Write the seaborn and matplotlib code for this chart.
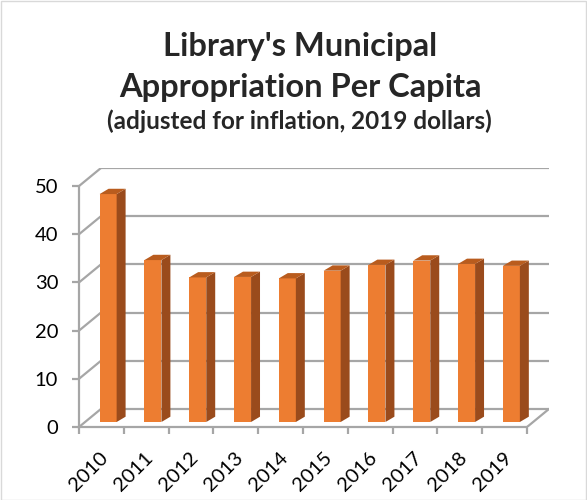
import matplotlib
matplotlib.use("Agg")
import matplotlib.pyplot as plt
import matplotlib.patches as mpatches
import matplotlib.transforms as mtransforms
import seaborn as sns
import numpy as np
import pandas as pd

years = ["2010", "2011", "2012", "2013", "2014", "2015", "2016", "2017", "2018", "2019"]
values = [47.3, 33.6, 30.0, 30.1, 29.8, 31.4, 32.6, 33.5, 32.8, 32.4]
yticks = [0, 10, 20, 30, 40, 50]
title_lines = ["Library's Municipal", "Appropriation Per Capita"]
subtitle = "(adjusted for inflation, 2019 dollars)"

FRONT = "#ED7D31"
SIDE = "#9A4B1C"
TOP = "#B95C1E"
GRID = "#A6A6A6"

sns.set_theme(style="white")
plt.rcParams["font.family"] = ["Lato", "DejaVu Sans"]

fig = plt.figure(figsize=(5.87, 5.0), dpi=100)
ax = fig.add_axes([79 / 587, 1 - 427 / 500, (549 - 79) / 587, (427 - 168) / 500])

df = pd.DataFrame({"year": years, "value": values})
sns.barplot(data=df, x="year", y="value", color=FRONT, saturation=1, width=0.38,
            ax=ax, zorder=3, edgecolor="none", linewidth=0)

# 3D depth geometry (in data units)
n = len(years)
floor_dx, floor_dy = 0.49, 3.75      # full depth of floor / walls
bar_dx, bar_dy = 0.15, 1.04          # position of bar front face inside floor
side_dx, side_dy = 0.20, 1.10        # depth of each bar box

x0, x1 = -0.5, n - 0.5
ax.set_xlim(x0, x1 + floor_dx)
ax.set_ylim(0, yticks[-1] + floor_dy)

# back wall gridlines
for v in yticks:
    ax.plot([x0 + floor_dx, x1 + floor_dx], [v + floor_dy, v + floor_dy],
            color=GRID, lw=1.6, zorder=1, solid_capstyle="butt")
    # left wall diagonals
    ax.plot([x0, x0 + floor_dx], [v, v + floor_dy], color=GRID, lw=1.6, zorder=1)
# floor right edge
ax.plot([x1, x1 + floor_dx], [0, floor_dy], color=GRID, lw=1.6, zorder=1)

# bars: shift into floor depth and add side/top faces
for p in ax.patches:
    p.set_x(p.get_x() + bar_dx)
    p.set_y(p.get_y() + bar_dy)
    bx, by, bw, bh = p.get_x(), p.get_y(), p.get_width(), p.get_height()
    side = mpatches.Polygon([(bx + bw, by), (bx + bw + side_dx, by + side_dy),
                             (bx + bw + side_dx, by + bh + side_dy), (bx + bw, by + bh)],
                            closed=True, facecolor=SIDE, edgecolor="none", zorder=3)
    top = mpatches.Polygon([(bx, by + bh), (bx + bw, by + bh),
                            (bx + bw + side_dx, by + bh + side_dy), (bx + side_dx, by + bh + side_dy)],
                           closed=True, facecolor=TOP, edgecolor="none", zorder=3)
    ax.add_patch(side)
    ax.add_patch(top)

# spines / axes
for s in ["top", "right"]:
    ax.spines[s].set_visible(False)
ax.spines["left"].set_bounds(0, yticks[-1])
ax.spines["bottom"].set_bounds(x0, x1)
for s in ["left", "bottom"]:
    ax.spines[s].set_color(GRID)
    ax.spines[s].set_linewidth(1.6)
    ax.spines[s].set_zorder(2)

ax.set_yticks(yticks)
ax.set_yticklabels([str(t) for t in yticks], fontsize=14.5, color="black")
ax.tick_params(axis="y", direction="out", length=5, width=1.6, color=GRID, pad=10, left=True)

ax.set_xticks(np.arange(n))
ax.set_xticks(np.arange(n + 1) - 0.5, minor=True)
ax.tick_params(axis="x", which="major", length=0, pad=20)
ax.tick_params(axis="x", which="minor", direction="out", length=5, width=1.6, color=GRID, bottom=True)
ax.set_xticklabels(years, fontsize=14.5, rotation=45, ha="right", va="center",
                   rotation_mode="anchor", color="black")
offset = mtransforms.ScaledTranslation(3 / 72, 0, fig.dpi_scale_trans)
for lbl in ax.get_xticklabels():
    lbl.set_transform(lbl.get_transform() + offset)

ax.set_xlabel("")
ax.set_ylabel("")
ax.grid(False)

# titles
fig.text(300 / 587, 1 - 56 / 500, title_lines[0], ha="center", va="baseline",
         fontsize=23.5, fontweight="bold")
fig.text(300 / 587, 1 - 97 / 500, title_lines[1], ha="center", va="baseline",
         fontsize=23.5, fontweight="bold")
fig.text(299 / 587, 1 - 129 / 500, subtitle, ha="center", va="baseline",
         fontsize=17.5, fontweight="bold")

# figure border
fig.patches.append(mpatches.Rectangle((0.001, 0.001), 0.997, 0.997, transform=fig.transFigure,
                                      fill=False, edgecolor="#D9D9D9", lw=1))

fig.savefig("out.png", dpi=100)
